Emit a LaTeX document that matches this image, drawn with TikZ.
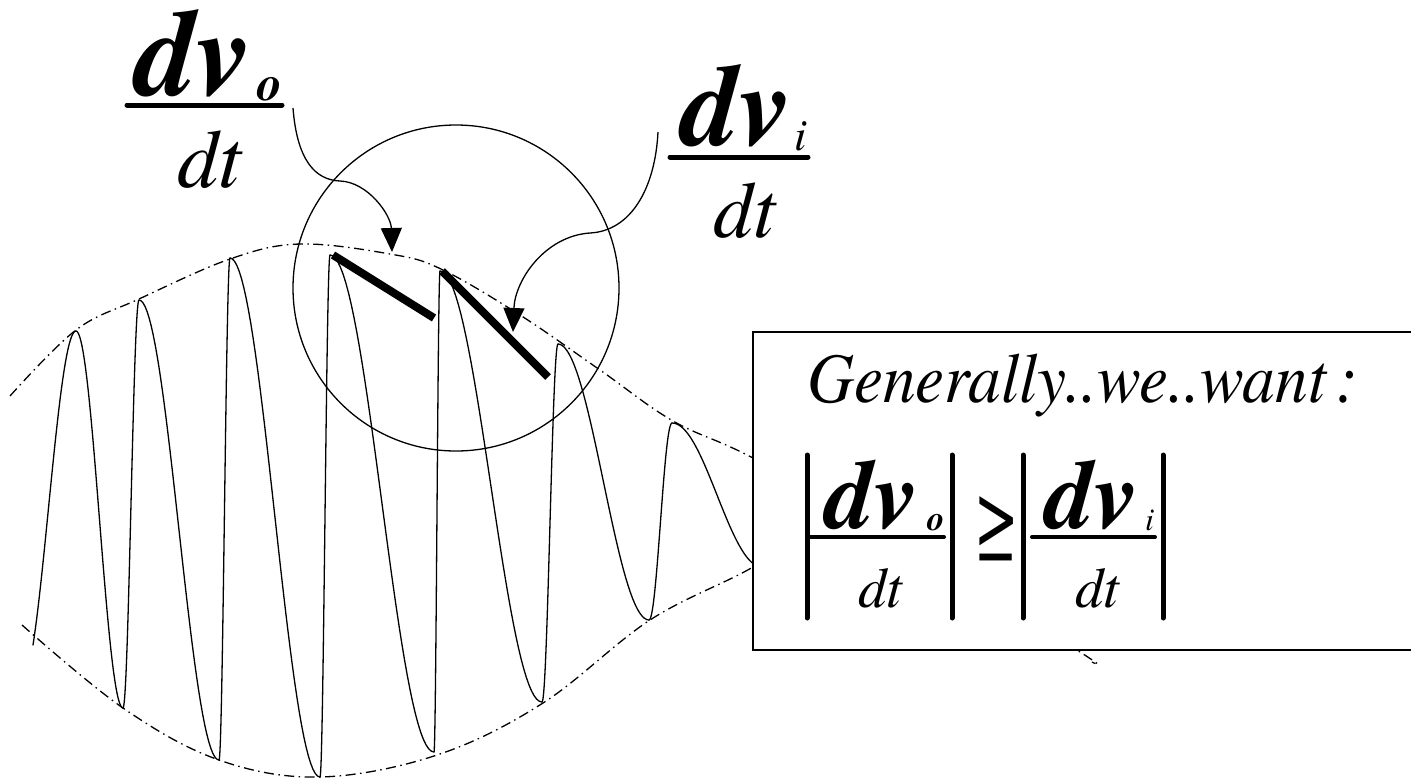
\documentclass[tikz,border=0pt]{standalone}
\usepackage{fontspec}
\setmainfont{texgyretermes}[Extension=.otf,UprightFont=*-regular,BoldFont=*-bold,ItalicFont=*-italic,BoldItalicFont=*-bolditalic]
\usepackage{graphicx}
\usetikzlibrary{arrows.meta}
\newcommand\FBI[1]{\fontsize{#1}{#1}\selectfont\bfseries\itshape}
\newcommand\FIT[1]{\fontsize{#1}{#1}\selectfont\mdseries\itshape}
\begin{document}
\begin{tikzpicture}[x=1pt,y=-1pt,
  wave/.style={line width=1.3pt,line cap=round,line join=round},
  env/.style={line width=1.3pt,dash pattern=on 10pt off 4.5pt on 1.5pt off 4.5pt},
  txt/.style={anchor=base west,inner sep=0pt,outer sep=0pt},
  fbar/.style={line width=5pt,line cap=round},
  absbar/.style={line width=5pt,line cap=round},
  slopeline/.style={line width=8pt},
  callout/.style={line width=1.3pt,-{Triangle[length=24pt,width=21pt]}},
  boxst/.style={line width=1.5pt,fill=white},
  ]
\useasboundingbox (0,0) rectangle (1411,780);
\clip (0,0) rectangle (1411,780);
% waveform
\foreach \xa/\ya/\xb/\yb/\ts in {21/685/76/331/0.218, 76/331/123/708/0, 123/708/139/300/0,
  139/300/219/760/0, 219/760/230/258/0, 230/258/320/777/0, 320/777/330/255/0,
  330/255/434/752/0, 434/752/440/271/0, 440/271/542/702/0, 542/702/558/344/0,
  558/344/649/620/0, 649/620/672/423/0, 672/423/762/567/0}{
  \draw[wave] plot[domain=\ts:1,samples=40,variable=\t]
    ({\xa+(\xb-\xa)*\t},{\ya+(\yb-\ya)*(1-cos(180*\t))/2});
}
% envelopes
\draw[env] plot[smooth,tension=0.6] coordinates {(10,396) (76,330) (139,299) (230,259) (300,244) (390,254) (441,269) (520,315) (600,370) (673,421) (753,458) (900,540) (1080,652) (1092,662)};
\draw[env] plot[smooth,tension=0.6] coordinates {(22,625) (123,708) (219,760) (320,777) (437,755) (543,703) (650,620) (753,567) (820,520)};
% circle
\node[draw,circle,line width=1.3pt,minimum size=326pt,inner sep=0pt] (zoomc) at (456,288) {};
% slopes
\draw[slopeline] (333,255) -- (434,318);
\draw[slopeline] (442,271) -- (548,377);
% box
\draw[boxst] (753,332) rectangle (1440,650);
\node[txt] (gen) at (807,402) {\scalebox{0.92}[1]{\FIT{71}Generally..we..want\kern0.15em:}};
% box equation
\draw[absbar] (807,455) -- (807,618);
\node[txt] (bno) at (825,528) {\FBI{98}dv};
\node[txt] (bso) at (927,530) {\FBI{35}o};
\draw[line width=4pt,line cap=round] (810,537) -- (944,537);
\node[txt] (bdo) at (858,607) {\FIT{57}dt};
\draw[absbar] (952,455) -- (952,618);
\node[txt] (geq) at (973,557) {\scalebox{1}[1.3]{\fontsize{80}{80}\selectfont ≥}};
\draw[absbar] (1023,455) -- (1023,618);
\node[txt] (bni) at (1045,528) {\FBI{98}dv};
\node[txt] (bsi) at (1145,530) {\FIT{32}i};
\draw[line width=4pt,line cap=round] (1032,537) -- (1155,537);
\node[txt] (bdi) at (1075,607) {\FIT{57}dt};
\draw[absbar] (1163,455) -- (1163,618);
% top-left fraction
\node[txt] (nuo) at (135,95) {\FBI{123}dv};
\node[txt] (subo) at (257,100) {\FBI{50}o};
\draw[fbar] (127,105) -- (282,105);
\node[txt] (dto) at (177,187) {\FIT{83}dt};
% right fraction
\node[txt] (nui) at (681,145) {\FBI{116}dv};
\node[txt] (subi) at (794,150) {\FIT{45}i};
\draw[fbar] (670,157) -- (808,157);
\node[txt] (dti) at (713,237) {\FIT{80}dt};
% callout arrows
\coordinate (a1s) at (293,108);
\coordinate (a1m) at (340,181);
\coordinate (a1e) at (392,252);
\coordinate (a2s) at (658,132);
\coordinate (a2m) at (590,233);
\coordinate (a2e) at (513,332);
\draw[callout] (a1s) .. controls (297,160) and (315,180) .. (a1m) .. controls (368,182) and (391,215) .. (a1e);
\draw[callout] (a2s) .. controls (655,190) and (630,231) .. (a2m) .. controls (545,236) and (515,280) .. (a2e);
\end{tikzpicture}
\end{document}
